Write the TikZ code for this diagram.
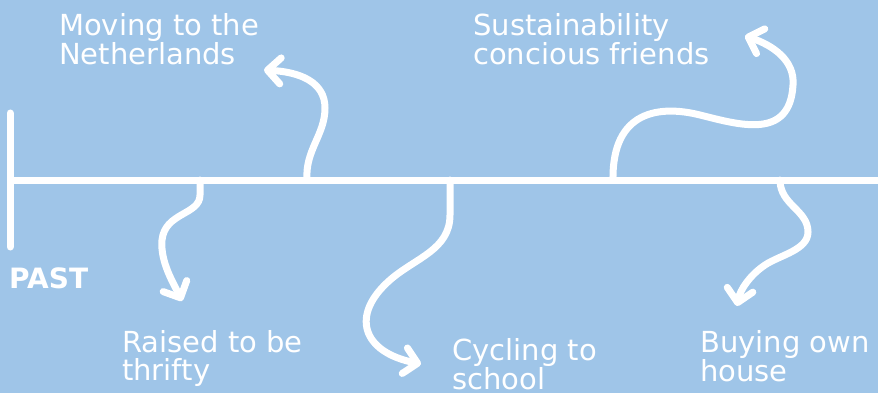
\documentclass[tikz,border=0pt]{standalone}
\usepackage{fontspec}
\setmainfont{DejaVu Sans}
\usepackage{xcolor}
\usepackage{tikz}
\usetikzlibrary{positioning,arrows.meta}
\definecolor{skyblue}{HTML}{9FC5E8}

\begin{document}
\begin{tikzpicture}[x=1pt,y=-1pt,
		line/.style={white, line width=7pt, line cap=round},
		curve/.style={line, -{Straight Barb[length=13pt,width=26pt,round]}},
		event/.style={anchor=north west, inner sep=0pt, text=white, align=left, font=\fontsize{29}{28}\selectfont}]
		% Background
		\fill [skyblue] (0,0) rectangle (878,393);
		\useasboundingbox (0,0) rectangle (878,393);
		
		% Timeline
		\coordinate (top) at (10,113);
		\coordinate (bottom) at (10,247);
		\coordinate (start) at (10,180);
		\coordinate (end) at (880,180);
		\draw [line] (top) -- (bottom);
		\draw [line, line cap=butt] (start) -- (end);
		
		% Nodes
		\node [anchor=north west, inner sep=0pt, text=white, font=\fontsize{28}{28}\selectfont\bfseries] (past) at (9,268) {PAST};
		\node [event] (moving) at (59,13) {Moving to the\\Netherlands};
		\node [event] (friends) at (473,13) {Sustainability\\concious friends};
		\node [event] (thrifty) at (122,330) {Raised to be\\thrifty};
		\node [event] (cycling) at (452,338) {Cycling to\\school};
		\node [event] (house) at (700,330) {Buying own\\house};
		
		% Points on the timeline and arrow tips
		\coordinate (movingfrom) at (307,180);
		\coordinate (movingto) at (264,70);
		\coordinate (thriftyfrom) at (200,180);
		\coordinate (thriftyto) at (182,301);
		\coordinate (cyclingfrom) at (450,180);
		\coordinate (cyclingto) at (421,364);
		\coordinate (friendsfrom) at (613,180);
		\coordinate (friendsto) at (745,36);
		\coordinate (housefrom) at (780,180);
		\coordinate (houseto) at (737,306);
		
		% Arrows
		\draw [curve] (movingfrom) .. controls (305,150) and (325,135) .. (325,108) .. controls (325,82) and (300,72) .. (movingto);
		\draw [curve] (thriftyfrom) -- (200,195) .. controls (200,215) and (165,212) .. (162,240) .. controls (160,262) and (174,284) .. (thriftyto);
		\draw [curve] (cyclingfrom) -- (450,215) .. controls (450,250) and (415,258) .. (390,280) .. controls (350,315) and (362,352) .. (cyclingto);
		\draw [curve] (friendsfrom) .. controls (612,110) and (660,105) .. (700,115) .. controls (740,125) and (790,140) .. (793,85) .. controls (795,60) and (772,45) .. (friendsto);
		\draw [curve] (housefrom) .. controls (780,205) and (808,210) .. (808,232) .. controls (808,250) and (780,255) .. (765,265) .. controls (750,275) and (740,290) .. (houseto);
	\end{tikzpicture}
\end{document}
